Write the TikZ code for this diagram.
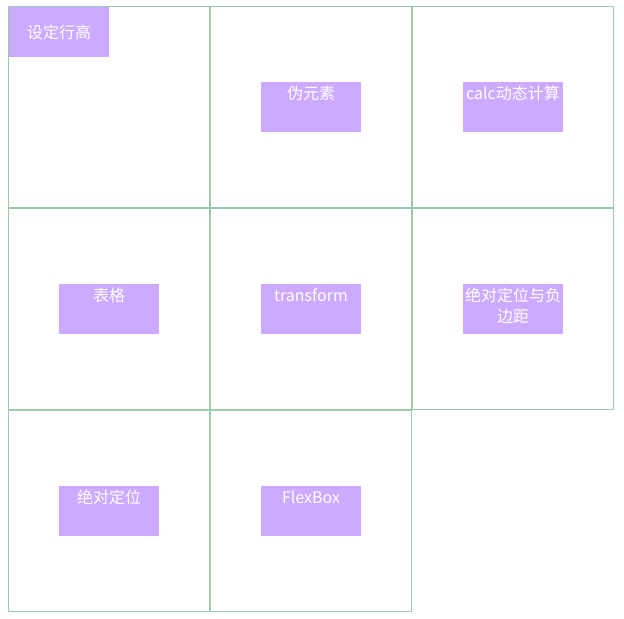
\documentclass[tikz,border=0pt]{standalone}
\usepackage{fontspec}
\newfontfamily\cjk{Noto Sans CJK SC}
\definecolor{cellgreen}{RGB}{153,204,170}
\definecolor{boxpurple}{RGB}{204,170,255}
\newcommand{\firstline}{\rule{0pt}{13.1pt}}
\begin{document}
\begin{tikzpicture}[x=0.75pt,y=-0.75pt,
  cell/.style={draw=cellgreen, line width=0.75pt, minimum width=150.75pt, minimum height=150.75pt, inner sep=0pt, outer sep=0pt},
  pbox/.style={fill=boxpurple, minimum width=75pt, minimum height=37.5pt, inner sep=0pt, outer sep=0pt},
  lbl/.style={text=white, font=\cjk\fontsize{12pt}{15.75pt}\selectfont, align=center, anchor=north, inner sep=0pt, outer sep=0pt}]
\useasboundingbox (0,0) rectangle (624,618);
\fill[white] (0,0) rectangle (624,618);
% cells
\node[cell] (c1) at (109,107) {};
\node[cell] (c2) at (311,107) {};
\node[cell] (c3) at (513,107) {};
\node[cell] (c4) at (109,309) {};
\node[cell] (c5) at (311,309) {};
\node[cell] (c6) at (513,309) {};
\node[cell] (c7) at (109,511) {};
\node[cell] (c8) at (311,511) {};
% boxes
\node[pbox] (b1) at (59,32) {};
\node[pbox] (b2) at (c2.center) {};
\node[pbox] (b3) at (c3.center) {};
\node[pbox] (b4) at (c4.center) {};
\node[pbox] (b5) at (c5.center) {};
\node[pbox] (b6) at (c6.center) {};
\node[pbox] (b7) at (c7.center) {};
\node[pbox] (b8) at (c8.center) {};
% labels
\node[lbl] (t1) at ([yshift=-10.875pt]b1.north) {\firstline 设定行高};
\node[lbl] (t2) at (b2.north) {\firstline 伪元素};
\node[lbl] (t3) at (b3.north) {\firstline calc动态计算};
\node[lbl] (t4) at (b4.north) {\firstline 表格};
\node[lbl] (t5) at (b5.north) {\firstline transform};
\node[lbl] (t6) at (b6.north) {\firstline 绝对定位与负\\边距};
\node[lbl] (t7) at (b7.north) {\firstline 绝对定位};
\node[lbl] (t8) at (b8.north) {\firstline FlexBox};
\end{tikzpicture}
\end{document}
